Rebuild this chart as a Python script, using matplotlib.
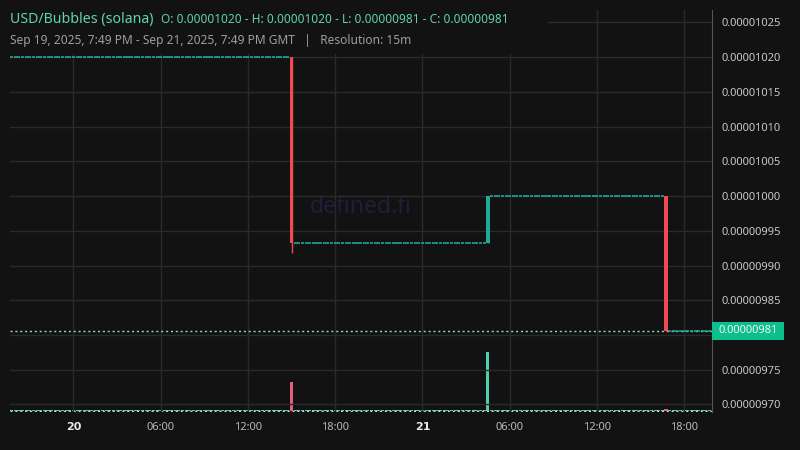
import matplotlib
matplotlib.use("Agg")
import matplotlib.pyplot as plt
import matplotlib.dates as mdates
from matplotlib.patches import Rectangle
import numpy as np
import pandas as pd

# ---- data ----
first_candle = "2025-09-19 19:45"
last_candle = "2025-09-21 19:45"
start_price = 0.00001020
move_times = ["2025-09-20 15:00", "2025-09-21 04:30", "2025-09-21 16:45"]
move_open = [0.00001020, 0.000009933, 0.00001000]
move_high = [0.00001020, 0.00001000, 0.00001000]
move_low = [0.000009918, 0.000009933, 0.000009806]
move_close = [0.000009933, 0.00001000, 0.000009806]
move_volume = [2.9, 5.9, 0.25]
flat_volume = 0.12
last_label = "0.00000981"
y_ticks = [0.00000970, 0.00000975, 0.00000980, 0.00000985, 0.00000990, 0.00000995,
           0.00001000, 0.00001005, 0.00001010, 0.00001015, 0.00001020, 0.00001025]
hidden_tick = 0.00000980

# ---- build 15m candle table ----
idx = pd.date_range(first_candle, last_candle, freq="15min")
mt = list(pd.to_datetime(move_times))
o, h, l, c, v = [], [], [], [], []
level = start_price
for t in idx:
    if t in mt:
        k = mt.index(t)
        o.append(move_open[k]); h.append(move_high[k]); l.append(move_low[k]); c.append(move_close[k])
        v.append(move_volume[k])
        level = move_close[k]
    else:
        o.append(level); h.append(level); l.append(level); c.append(level); v.append(flat_volume)
df = pd.DataFrame({"o": o, "h": h, "l": l, "c": c, "v": v}, index=idx)

BG = "#121212"
GRID = "#2a2a2a"
UP = "#22ab94"
FLAT = "#1fb59c"
DOWN = "#f04a55"
FONT = "Noto Sans"

fig = plt.figure(figsize=(8, 4.5), dpi=100, facecolor=BG)
rect = [10/800, 1-412/450, 702/800, 402/450]
axv = fig.add_axes(rect, facecolor=BG)
axv.set_zorder(1)
ax = fig.add_axes(rect, facecolor=BG)
ax.set_zorder(2)
ax.patch.set_alpha(0)

x = mdates.date2num(df.index.to_pydatetime())
w = 15/(24*60)
xlim = (mdates.date2num(pd.Timestamp("2025-09-19 19:38")), mdates.date2num(pd.Timestamp("2025-09-21 19:55")))

# volume
vcol = ["#e0607a" if cc < oo else "#4fcfae" for oo, cc in zip(df.o, df.c)]
axv.bar(x, df.v, width=w*0.85, color=vcol, linewidth=0)
axv.set_ylim(-0.1, 40.1)
axv.axhline(0, color="#c8d8d4", lw=1, ls=(0, (1.5, 2)), zorder=3)
axv.set_xlim(xlim)
axv.axis("off")

# grid
for yt in y_ticks:
    ax.axhline(yt, color=GRID, lw=1, zorder=0)
ticks = pd.date_range("2025-09-20 00:00", "2025-09-21 18:00", freq="6h")
for xt in mdates.date2num(ticks.to_pydatetime()):
    ax.axvline(xt, color=GRID, lw=1, zorder=0)

# candles
for xi, oo, hh, ll, cc in zip(x, df.o, df.h, df.l, df.c):
    if oo == cc:
        ax.hlines(oo, xi - w*0.42, xi + w*0.42, color=FLAT, lw=1.1, zorder=3)
    else:
        col = UP if cc > oo else DOWN
        ax.vlines(xi, ll, hh, color=col, lw=1, zorder=3)
        ax.bar(xi, abs(cc - oo), bottom=min(oo, cc), width=w*0.95, color=col, linewidth=0, zorder=4)

# last price line
ax.axhline(df.c.iloc[-1], color="#8fd8c6", lw=1, ls=(0, (1.5, 2)), zorder=2)

ax.set_xlim(xlim)
ax.set_ylim(0.000009689, 0.000010268)

# x ticks
ax.set_xticks(mdates.date2num(ticks.to_pydatetime()))
ax.set_xticklabels([str(t.day) if t.hour == 0 else t.strftime("%H:%M") for t in ticks])
ax.tick_params(axis="x", length=0, pad=7, labelsize=8)
for t, lab in zip(ticks, ax.get_xticklabels()):
    if t.hour == 0:
        lab.set_family("DejaVu Sans")
        lab.set_fontweight("bold")
        lab.set_color("#e8e8e8")
    else:
        lab.set_family(FONT)
        lab.set_color("#b8b8b8")

# y ticks
ax.yaxis.tick_right()
ax.set_yticks(y_ticks)
ax.set_yticklabels(["" if abs(t - hidden_tick) < 1e-12 else f"{t:.8f}" for t in y_ticks])
for lab in ax.get_yticklabels():
    lab.set_family(FONT)
ax.tick_params(axis="y", length=0, pad=7, labelsize=8, colors="#c8c8c8")
for s in ["top", "left", "bottom"]:
    ax.spines[s].set_visible(False)
ax.spines["right"].set_color("#555555")

# header background box (covers grid behind the legend)
fig.patches.append(Rectangle((0, 1-54/450), 548/800, 54/450, transform=fig.transFigure,
                             facecolor=BG, edgecolor="none", zorder=5))

# last price label box
ly = ax.transData.transform((0, df.c.iloc[-1]))[1]
fig.patches.append(Rectangle((712/800, (ly-9)/450), 72/800, 18/450, transform=fig.transFigure,
                             facecolor="#0dbf8c", edgecolor="none", zorder=6))
fig.text(748/800, ly/450, last_label, ha="center", va="center", fontsize=8,
         color="#f4f4f4", family=FONT, zorder=7)

# watermark
fig.text(361/800, 1-207/450, "defined.fi", ha="center", va="center", fontsize=16.5,
         color="#1f1f3a", family=FONT, zorder=1)

# header
fig.text(10/800, 1-19/450, "USD/Bubbles (solana)", fontsize=10.2, color="#5fd3b2",
         ha="left", va="center", family=FONT, zorder=8)
fig.text(161/800, 1-19.5/450, "O: 0.00001020 - H: 0.00001020 - L: 0.00000981 - C: 0.00000981",
         fontsize=8.5, color="#5fd3b2", ha="left", va="center", family=FONT, zorder=8)
fig.text(10/800, 1-40.5/450, "Sep 19, 2025, 7:49 PM - Sep 21, 2025, 7:49 PM GMT   |   Resolution: 15m",
         fontsize=8.6, color="#9e9e9e", ha="left", va="center", family=FONT, zorder=8)

fig.savefig("out.png", dpi=100, facecolor=BG)
